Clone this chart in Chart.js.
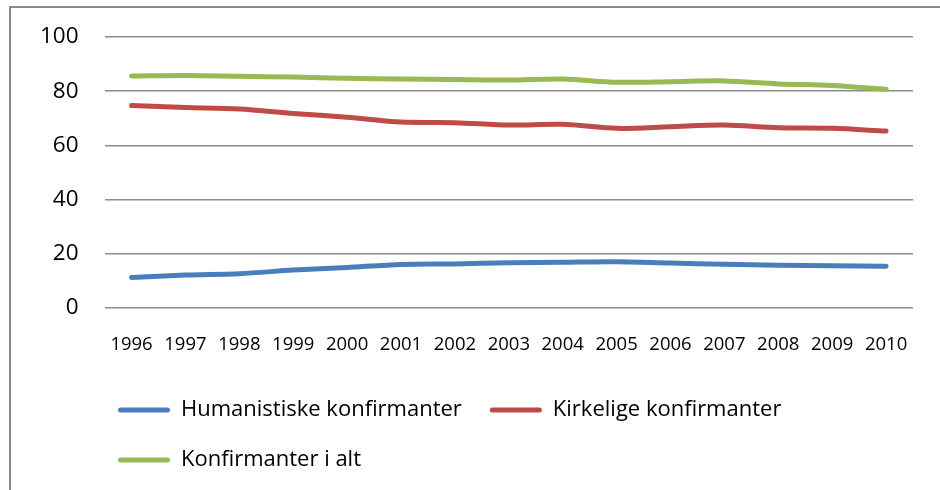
<!DOCTYPE html>
<html>
<head>
<meta charset="utf-8">
<script src="https://cdn.jsdelivr.net/npm/chart.js@4/dist/chart.umd.min.js"></script>
<style>
  html, body { margin: 0; padding: 0; background: #fff; overflow: hidden; }
  #frame { position: absolute; left: 9px; top: 6px; width: 1000px; height: 600px; border: 2px solid #8a8a8a; box-sizing: border-box; }
  #wrap { position: absolute; left: 0; top: 0; width: 940px; height: 492px; }
</style>
</head>
<body>
<div id="frame"></div>
<div id="wrap"><canvas id="c" width="940" height="492"></canvas></div>
<script>
const years = ['1996','1997','1998','1999','2000','2001','2002','2003','2004','2005','2006','2007','2008','2009','2010'];
const humanistiske = [11.3, 12.2, 12.7, 14.0, 15.0, 16.1, 16.3, 16.7, 16.9, 17.1, 16.6, 16.2, 15.8, 15.6, 15.4];
const kirkelige = [74.7, 74.0, 73.4, 71.8, 70.4, 68.6, 68.4, 67.5, 67.8, 66.3, 66.9, 67.5, 66.5, 66.3, 65.3];
const iAlt = [85.6, 85.8, 85.5, 85.2, 84.8, 84.5, 84.3, 84.1, 84.5, 83.3, 83.5, 83.8, 82.7, 82.1, 80.7];
const yTicks = [0, 20, 40, 60, 80, 100];
const seriesNames = ['Humanistiske konfirmanter', 'Kirkelige konfirmanter', 'Konfirmanter i alt'];

const FONT = "'Open Sans', 'Liberation Sans', sans-serif";

const legendShift = {
  id: 'legendShift',
  afterLayout(chart) {
    const lg = chart.legend;
    if (lg) { lg.left += 76; lg.right += 76; lg.top -= 11; lg.bottom -= 11; }
  }
};

function mk(label, data, color) {
  return {
    label, data,
    borderColor: color, backgroundColor: color,
    borderWidth: 5, pointRadius: 0, pointHoverRadius: 0,
    tension: 0.3, borderCapStyle: 'round', borderJoinStyle: 'round', fill: false
  };
}

new Chart(document.getElementById('c'), {
  type: 'line',
  data: {
    labels: years,
    datasets: [
      mk(seriesNames[0], humanistiske, '#4a7ebb'),
      mk(seriesNames[1], kirkelige, '#be4b48'),
      mk(seriesNames[2], iAlt, '#98b954')
    ]
  },
  plugins: [legendShift],
  options: {
    responsive: false,
    animation: false,
    layout: { padding: { left: 14, right: 27, top: 37, bottom: 0 } },
    plugins: {
      tooltip: { enabled: false },
      legend: {
        position: 'bottom',
        align: 'start',
        labels: {
          color: '#000',
          font: { family: FONT, size: 22 },
          boxWidth: 52,
          boxHeight: 5,
          padding: 28,
          useBorderRadius: true,
          borderRadius: 2.5,
          generateLabels(chart) {
            const items = Chart.defaults.plugins.legend.labels.generateLabels(chart);
            items.forEach(it => { it.lineWidth = 0; it.strokeStyle = 'rgba(0,0,0,0)'; });
            return items;
          }
        }
      }
    },
    scales: {
      x: {
        offset: true,
        grid: { display: false, drawTicks: false },
        border: { display: false },
        ticks: { color: '#000', font: { family: FONT, size: 18.5, lineHeight: 1.51 }, padding: 23, maxRotation: 0, autoSkip: false }
      },
      y: {
        min: 0, max: 100,
        afterBuildTicks(scale) { scale.ticks = yTicks.map(v => ({ value: v })); },
        grid: { color: '#8c8c8c', lineWidth: 1.5, drawTicks: false },
        border: { display: false },
        ticks: { color: '#000', font: { family: FONT, size: 22.5, lineHeight: 0.95 }, padding: 26 }
      }
    }
  }
});
</script>
</body>
</html>
